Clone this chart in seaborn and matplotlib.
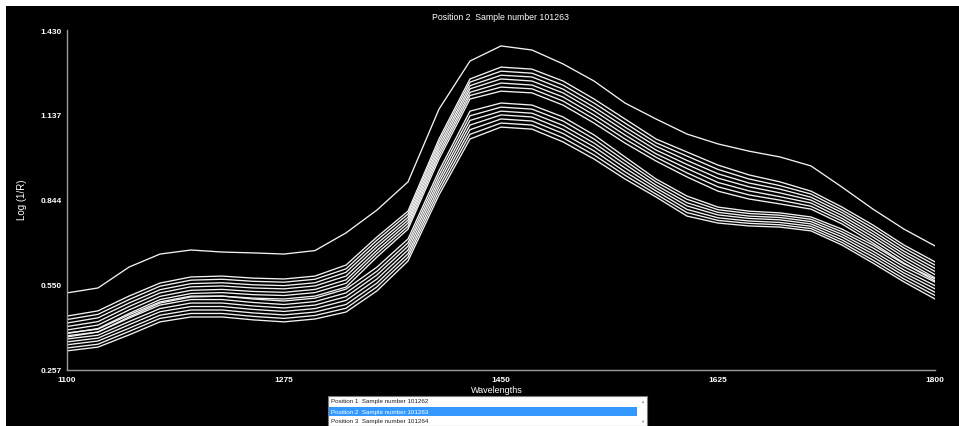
import matplotlib
matplotlib.use('Agg')
import matplotlib.pyplot as plt
import seaborn as sns
import pandas as pd
from matplotlib.patches import Rectangle

# wavelengths (nm) sampled every 25 nm
wavelengths = [1100, 1125, 1150, 1175, 1200, 1225, 1250, 1275, 1300, 1325,
               1350, 1375, 1400, 1425, 1450, 1475, 1500, 1525, 1550, 1575,
               1600, 1625, 1650, 1675, 1700, 1725, 1750, 1775, 1800]

# Log(1/R), one list per sample
spec_top = [0.523, 0.540, 0.612, 0.657, 0.671, 0.664, 0.661, 0.657, 0.669, 0.730,
            0.809, 0.906, 1.157, 1.323, 1.375, 1.361, 1.313, 1.254, 1.178, 1.123,
            1.071, 1.037, 1.012, 0.992, 0.961, 0.888, 0.812, 0.743, 0.685]

up_1 = [0.443, 0.461, 0.512, 0.557, 0.578, 0.581, 0.574, 0.571, 0.581, 0.619,
        0.716, 0.805, 1.054, 1.261, 1.302, 1.295, 1.254, 1.192, 1.123, 1.054,
        1.009, 0.964, 0.930, 0.906, 0.874, 0.819, 0.757, 0.688, 0.630]
up_2 = [0.431, 0.449, 0.500, 0.546, 0.567, 0.570, 0.563, 0.560, 0.570, 0.606,
        0.705, 0.795, 1.043, 1.250, 1.288, 1.281, 1.240, 1.178, 1.109, 1.041,
        0.995, 0.949, 0.916, 0.893, 0.864, 0.809, 0.747, 0.678, 0.619]
up_3 = [0.419, 0.437, 0.488, 0.534, 0.555, 0.558, 0.551, 0.548, 0.558, 0.594,
        0.693, 0.784, 1.031, 1.238, 1.274, 1.268, 1.226, 1.164, 1.095, 1.029,
        0.980, 0.934, 0.902, 0.881, 0.853, 0.800, 0.736, 0.667, 0.608]
up_4 = [0.407, 0.424, 0.476, 0.523, 0.544, 0.547, 0.540, 0.537, 0.547, 0.581,
        0.682, 0.774, 1.020, 1.227, 1.261, 1.254, 1.213, 1.151, 1.082, 1.016,
        0.966, 0.919, 0.889, 0.868, 0.843, 0.790, 0.726, 0.657, 0.597]
up_5 = [0.395, 0.412, 0.464, 0.511, 0.532, 0.535, 0.528, 0.525, 0.535, 0.568,
        0.670, 0.764, 1.008, 1.215, 1.247, 1.240, 1.199, 1.137, 1.068, 1.003,
        0.952, 0.904, 0.875, 0.855, 0.833, 0.780, 0.716, 0.647, 0.586]
up_6 = [0.383, 0.400, 0.452, 0.500, 0.521, 0.524, 0.517, 0.514, 0.524, 0.556,
        0.659, 0.753, 0.997, 1.204, 1.233, 1.227, 1.185, 1.123, 1.054, 0.991,
        0.937, 0.889, 0.861, 0.843, 0.822, 0.771, 0.705, 0.636, 0.575]
up_7 = [0.371, 0.388, 0.440, 0.488, 0.509, 0.512, 0.505, 0.502, 0.512, 0.543,
        0.647, 0.743, 0.985, 1.192, 1.219, 1.213, 1.171, 1.109, 1.040, 0.978,
        0.923, 0.874, 0.847, 0.830, 0.812, 0.761, 0.695, 0.626, 0.564]

low_1 = [0.385, 0.398, 0.447, 0.492, 0.512, 0.512, 0.502, 0.495, 0.505, 0.536,
         0.612, 0.709, 0.944, 1.150, 1.178, 1.171, 1.130, 1.068, 0.992, 0.916,
         0.857, 0.819, 0.805, 0.799, 0.785, 0.743, 0.688, 0.623, 0.571]
low_2 = [0.375, 0.388, 0.436, 0.481, 0.500, 0.500, 0.490, 0.483, 0.493, 0.523,
         0.598, 0.696, 0.930, 1.134, 1.164, 1.157, 1.116, 1.054, 0.979, 0.906,
         0.846, 0.810, 0.797, 0.791, 0.777, 0.734, 0.678, 0.613, 0.560]
low_3 = [0.364, 0.377, 0.424, 0.469, 0.488, 0.488, 0.478, 0.471, 0.481, 0.510,
         0.585, 0.684, 0.916, 1.118, 1.150, 1.143, 1.101, 1.040, 0.967, 0.895,
         0.834, 0.801, 0.788, 0.783, 0.769, 0.725, 0.667, 0.602, 0.548]
low_4 = [0.354, 0.367, 0.413, 0.458, 0.476, 0.476, 0.466, 0.459, 0.469, 0.497,
         0.571, 0.671, 0.903, 1.102, 1.137, 1.130, 1.087, 1.027, 0.954, 0.885,
         0.823, 0.792, 0.780, 0.775, 0.761, 0.716, 0.657, 0.592, 0.537]
low_5 = [0.344, 0.357, 0.401, 0.446, 0.464, 0.464, 0.454, 0.447, 0.457, 0.483,
         0.557, 0.658, 0.889, 1.086, 1.123, 1.116, 1.073, 1.013, 0.941, 0.875,
         0.811, 0.782, 0.771, 0.766, 0.753, 0.706, 0.647, 0.582, 0.525]
low_6 = [0.333, 0.346, 0.390, 0.435, 0.452, 0.452, 0.442, 0.435, 0.445, 0.470,
         0.544, 0.646, 0.875, 1.070, 1.109, 1.102, 1.058, 0.999, 0.929, 0.864,
         0.800, 0.773, 0.763, 0.758, 0.745, 0.697, 0.636, 0.571, 0.514]
low_7 = [0.323, 0.336, 0.378, 0.423, 0.440, 0.440, 0.430, 0.423, 0.433, 0.457,
         0.530, 0.633, 0.861, 1.054, 1.095, 1.088, 1.044, 0.985, 0.916, 0.854,
         0.788, 0.764, 0.754, 0.750, 0.737, 0.688, 0.626, 0.561, 0.502]

samples = {'top': spec_top,
           'u1': up_1, 'u2': up_2, 'u3': up_3, 'u4': up_4, 'u5': up_5, 'u6': up_6, 'u7': up_7,
           'l1': low_1, 'l2': low_2, 'l3': low_3, 'l4': low_4, 'l5': low_5, 'l6': low_6, 'l7': low_7}

x_ticks = [1100, 1275, 1450, 1625, 1800]
y_ticks = [0.257, 0.55025, 0.8435, 1.13675, 1.430]
y_tick_labels = ['0.257', '0.550', '0.844', '1.137', '1.430']

title = 'Position 2  Sample number 101263'
list_rows = ['Position 1  Sample number 101262',
             'Position 2  Sample number 101263',
             'Position 3  Sample number 101264']

rows = []
for name, vals in samples.items():
    for wl, v in zip(wavelengths, vals):
        rows.append({'sample': name, 'wavelength': wl, 'logr': v})
df = pd.DataFrame(rows)

sns.set_style('white', {'axes.facecolor': 'black'})
plt.rcParams['font.family'] = ['Liberation Sans', 'DejaVu Sans']

W, H = 959, 427
fig = plt.figure(figsize=(W / 100, H / 100), dpi=100, facecolor='white')
fig.patches.append(Rectangle((6 / W, 0), 1 - 6 / W, 1 - 7 / H, transform=fig.transFigure,
                             facecolor='black', edgecolor='none', zorder=-5))

ax = fig.add_axes([67 / W, 56 / H, 868 / W, 340 / H])
ax.set_facecolor('black')
sns.lineplot(data=df, x='wavelength', y='logr', units='sample', estimator=None,
             color='#f2f2f2', lw=0.95, ax=ax, legend=False)
for ln in ax.lines:
    ln.set_solid_joinstyle('round')

ax.set_xlim(1100, 1800)
ax.set_ylim(0.257, 1.430)
ax.set_xticks(x_ticks)
ax.set_xticklabels([str(t) for t in x_ticks])
ax.set_yticks(y_ticks)
ax.set_yticklabels(y_tick_labels)
ax.set_xlabel('')
ax.set_ylabel('')
for s in ['top', 'right']:
    ax.spines[s].set_visible(False)
for s in ['left', 'bottom']:
    ax.spines[s].set_color('#9a9a9a')
    ax.spines[s].set_linewidth(1)
ax.tick_params(axis='both', colors='#9a9a9a', labelcolor='white', labelsize=6,
               length=2, width=0.8, direction='out', pad=2)
for lab in ax.get_xticklabels() + ax.get_yticklabels():
    lab.set_fontweight('bold')

fig.text(501 / W, 1 - 18 / H, title, color='white', fontsize=6.3, ha='center', va='center')
fig.text(22 / W, 1 - 200 / H, 'Log (1/R)', color='white', fontsize=7, rotation=90,
         ha='center', va='center')
fig.text(497 / W, 1 - 391 / H, 'Wavelengths', color='white', fontsize=6.5,
         ha='center', va='center')

# selection list box under the chart
fig.patches.append(Rectangle((328 / W, 0), (647 - 328) / W, 30 / H, transform=fig.transFigure,
                             facecolor='white', edgecolor='#7a7a7a', lw=0.8, zorder=5))
fig.patches.append(Rectangle((329 / W, 10 / H), (637 - 329) / W, 9 / H, transform=fig.transFigure,
                             facecolor='#3399ff', edgecolor='none', zorder=6))
for i, txt in enumerate(list_rows):
    yc = [25, 14.5, 5][i]
    fig.text(331 / W, yc / H, txt, color='white' if i == 1 else '#202020', fontsize=4.5,
             ha='left', va='center', zorder=7)
fig.text(642 / W, 25 / H, '\u25b2', color='#909090', fontsize=3, ha='center', va='center', zorder=7)
fig.text(642 / W, 5 / H, '\u25bc', color='#909090', fontsize=3, ha='center', va='center', zorder=7)

fig.savefig('out.png', dpi=100, facecolor=fig.get_facecolor())
